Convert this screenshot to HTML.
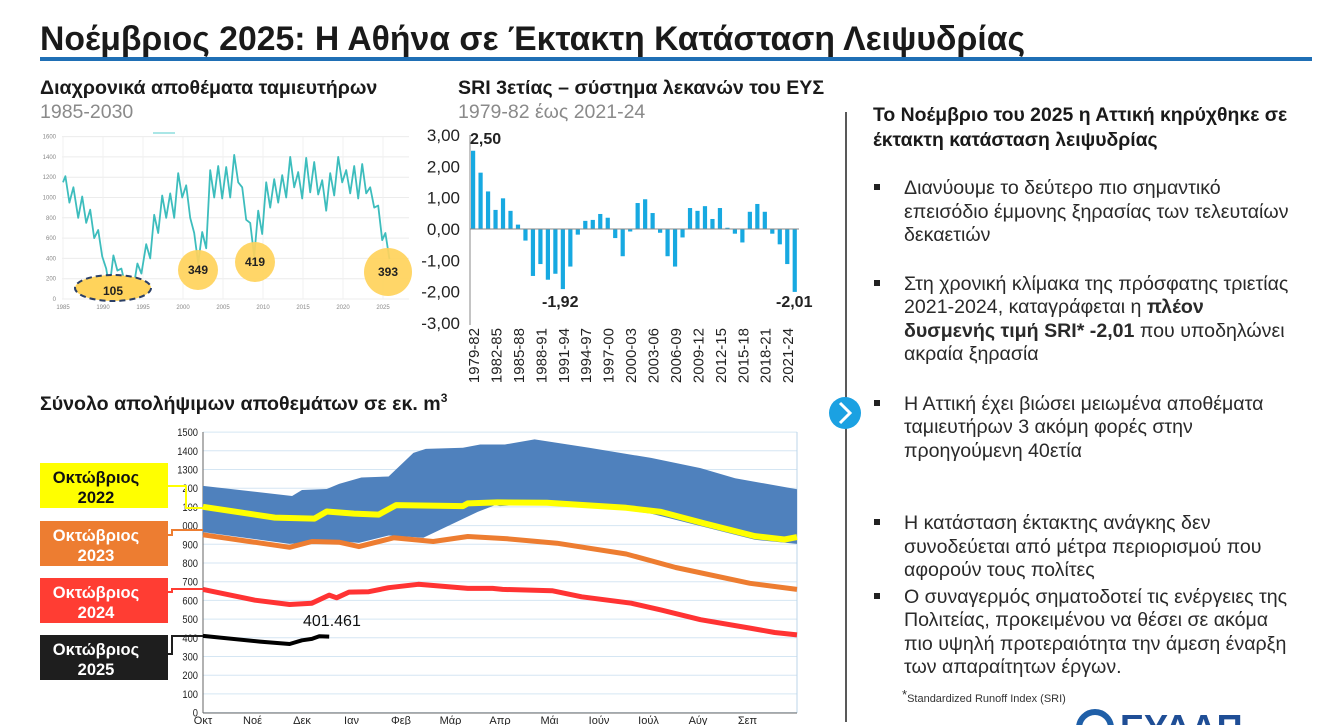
<!DOCTYPE html>
<html><head><meta charset="utf-8"><style>
html,body{margin:0;padding:0;background:#fff;}
svg{display:block;font-family:"Liberation Sans",Arial,sans-serif;}
</style></head><body>
<svg id="s" width="1334" height="725" viewBox="0 0 1334 725" xmlns="http://www.w3.org/2000/svg">
<rect width="1334" height="725" fill="#fff"/>
<text x="40" y="50" font-size="34" font-weight="bold" fill="#1a1a1a" textLength="985" lengthAdjust="spacingAndGlyphs">Νοέμβριος 2025: Η Αθήνα σε Έκτακτη Κατάσταση Λειψυδρίας</text>
<rect x="40" y="57" width="1272" height="4" fill="#1f6fb5"/>

<text x="40" y="94" font-size="19.6" font-weight="bold" fill="#1a1a1a">Διαχρονικά αποθέματα ταμιευτήρων</text>
<text x="40" y="118" font-size="19.5" fill="#8a8a8a">1985-2030</text>
<text x="458" y="94" font-size="19.6" font-weight="bold" fill="#1a1a1a">SRI 3ετίας – σύστημα λεκανών του ΕΥΣ</text>
<text x="458" y="118" font-size="19.5" fill="#8a8a8a">1979-82 έως 2021-24</text>

<g id="left"></g>
<g id="sri"></g>
<g id="bottom"></g>

<text x="40" y="410" font-size="19.6" font-weight="bold" fill="#1a1a1a">Σύνολο απολήψιμων αποθεμάτων σε εκ. m<tspan font-size="12" dy="-8">3</tspan></text>

<!-- right panel -->
<line x1="846" y1="112" x2="846" y2="722" stroke="#222" stroke-width="1.5"/>
<circle cx="845" cy="413" r="16" fill="#1ba1e2"/>
<polyline points="840,403 850,413 840,423" fill="none" stroke="#fff" stroke-width="3"/>
<g font-size="19.4" font-weight="bold" fill="#1a1a1a">
<text x="873" y="121">Το Νοέμβριο του 2025 η Αττική κηρύχθηκε σε</text>
<text x="873" y="146">έκτακτη κατάσταση λειψυδρίας</text>
</g>
<g font-size="19.6" fill="#2a2a2a">
<rect x="874" y="184" width="6" height="6" fill="#222"/>
<text x="904" y="194">Διανύουμε το δεύτερο πιο σημαντικό</text>
<text x="904" y="218">επεισόδιο έμμονης ξηρασίας των τελευταίων</text>
<text x="904" y="241">δεκαετιών</text>
<rect x="874" y="280" width="6" height="6" fill="#222"/>
<text x="904" y="290">Στη χρονική κλίμακα της πρόσφατης τριετίας</text>
<text x="904" y="313">2021-2024, καταγράφεται η <tspan font-weight="bold">πλέον</tspan></text>
<text x="904" y="337"><tspan font-weight="bold">δυσμενής τιμή SRI* -2,01</tspan> που υποδηλώνει</text>
<text x="904" y="360">ακραία ξηρασία</text>
<rect x="874" y="400" width="6" height="6" fill="#222"/>
<text x="904" y="410">Η Αττική έχει βιώσει μειωμένα αποθέματα</text>
<text x="904" y="433">ταμιευτήρων 3 ακόμη φορές στην</text>
<text x="904" y="457">προηγούμενη 40ετία</text>
<rect x="874" y="519" width="6" height="6" fill="#222"/>
<text x="904" y="529">Η κατάσταση έκτακτης ανάγκης δεν</text>
<text x="904" y="553">συνοδεύεται από μέτρα περιορισμού που</text>
<text x="904" y="576">αφορούν τους πολίτες</text>
<rect x="874" y="593" width="6" height="6" fill="#222"/>
<text x="904" y="603">Ο συναγερμός σηματοδοτεί τις ενέργειες της</text>
<text x="904" y="626">Πολιτείας, προκειμένου να θέσει σε ακόμα</text>
<text x="904" y="650">πιο υψηλή προτεραιότητα την άμεση έναρξη</text>
<text x="904" y="673">των απαραίτητων έργων.</text>
</g>
<text x="902" y="702" font-size="11" fill="#333"><tspan font-size="13" dy="-3">*</tspan><tspan dy="3">Standardized Runoff Index (SRI)</tspan></text>
<circle cx="1095" cy="728" r="16" fill="none" stroke="#1f5fa8" stroke-width="6"/>
<text x="1120" y="740" font-size="36" font-weight="bold" fill="#1f4e96">ΕΥΔΑΠ</text>
</svg>
<script>
const NS="http://www.w3.org/2000/svg";
function el(p,t,a,txt){const e=document.createElementNS(NS,t);for(const k in a)e.setAttribute(k,a[k]);if(txt!==undefined)e.textContent=txt;p.appendChild(e);return e;}
(function(){
const g=document.getElementById('left');
const X=y=>63+(y-1985)*8.0, Y=v=>299-v*0.1015;
for(let v=0;v<=1600;v+=200){el(g,'line',{x1:62,x2:409,y1:Y(v),y2:Y(v),stroke:'#ececec','stroke-width':1});
el(g,'text',{x:56,y:Y(v)+2,'font-size':6,fill:'#888','text-anchor':'end'},v);}
for(let y=1985;y<=2025;y+=5){el(g,'line',{x1:X(y),x2:X(y),y1:137,y2:299,stroke:'#f0f0f0'});
el(g,'text',{x:X(y),y:309,'font-size':6,fill:'#888','text-anchor':'middle'},y);}
el(g,'line',{x1:153,x2:175,y1:133,y2:133,stroke:'#5cc',"stroke-width":1});
const d=[[1985,1150],[1985.3,1210],[1985.8,950],[1986.3,1100],[1986.9,800],[1987.4,1010],[1987.9,750],[1988.4,880],[1988.9,600],[1989.4,680],[1989.9,420],[1990.4,300],[1990.8,105],[1991.3,430],[1991.8,280],[1992.3,300],[1992.8,130],[1993.3,200],[1993.8,110],[1994.3,350],[1994.8,250],[1995.4,540],[1995.9,400],[1996.4,830],[1996.9,650],[1997.4,1020],[1997.9,800],[1998.4,1040],[1998.9,800],[1999.4,1240],[1999.9,1000],[2000.4,1120],[2000.9,800],[2001.4,650],[2001.9,349],[2002.4,660],[2002.9,500],[2003.4,1270],[2003.9,1000],[2004.4,1310],[2004.9,990],[2005.4,1300],[2005.9,1000],[2006.4,1420],[2006.9,1150],[2007.4,1100],[2007.9,780],[2008.4,750],[2008.9,419],[2009.4,870],[2009.9,640],[2010.4,1150],[2010.9,900],[2011.4,1180],[2011.9,950],[2012.4,1220],[2012.9,1000],[2013.4,1400],[2013.9,1100],[2014.4,1250],[2014.9,990],[2015.4,1390],[2015.9,1050],[2016.4,1350],[2016.9,1030],[2017.4,1170],[2017.9,870],[2018.4,1240],[2018.9,1020],[2019.4,1400],[2019.9,1150],[2020.4,1270],[2020.9,1040],[2021.4,1310],[2021.9,990],[2022.4,1330],[2022.9,1040],[2023.4,1100],[2023.9,900],[2024.4,920],[2024.9,580],[2025.3,650],[2025.8,393]];
el(g,'polyline',{points:d.map(p=>X(p[0]).toFixed(1)+','+Y(p[1]).toFixed(1)).join(' '),fill:'none',stroke:'#3dbdbd','stroke-width':1.8,'stroke-linejoin':'round'});
const C=[[198,270,20,'349'],[255,262,20,'419'],[388,272,24,'393']];
el(g,'ellipse',{cx:113,cy:288,rx:38,ry:13,fill:'#ffd35b',stroke:'#2b3f66','stroke-width':2,'stroke-dasharray':'6,4'});
el(g,'text',{x:113,y:295,'font-size':12,'font-weight':'bold','text-anchor':'middle',fill:'#222'},'105');
C.forEach(c=>{el(g,'circle',{cx:c[0],cy:c[1],r:c[2],fill:'#ffd35b',opacity:.92});el(g,'text',{x:c[0],y:c[1]+4,'font-size':12,'font-weight':'bold','text-anchor':'middle',fill:'#222'},c[3]);});
})();
(function(){
const g=document.getElementById('sri');
const Y=v=>229-v*31.3;
['3,00','2,00','1,00','0,00','-1,00','-2,00','-3,00'].forEach((t,i)=>el(g,'text',{x:460,y:Y(3-i)+6,'font-size':17,fill:'#222','text-anchor':'end'},t));
const v=[2.50,1.80,1.20,0.61,0.98,0.58,0.14,-0.37,-1.50,-1.12,-1.62,-1.43,-1.92,-1.20,-0.18,0.26,0.29,0.48,0.36,-0.29,-0.87,-0.08,0.83,0.95,0.51,-0.12,-0.87,-1.20,-0.27,0.67,0.58,0.73,0.32,0.67,0.04,-0.15,-0.43,0.55,0.80,0.55,-0.15,-0.49,-1.12,-2.01];
v.forEach((b,i)=>{const x=473+i*7.48;el(g,'rect',{x:x-2,y:Math.min(Y(0),Y(b)),width:4.2,height:Math.abs(b)*31.3,fill:'#17a9e1'});});
el(g,'line',{x1:470,x2:470,y1:135,y2:325,stroke:'#888'});
el(g,'line',{x1:470,x2:799,y1:229,y2:229,stroke:'#888'});
const L=['1979-82','1982-85','1985-88','1988-91','1991-94','1994-97','1997-00','2000-03','2003-06','2006-09','2009-12','2012-15','2015-18','2018-21','2021-24'];
L.forEach((t,i)=>{const x=473+i*3*7.48+6;el(g,'text',{x:x,y:328,'font-size':15,fill:'#222','text-anchor':'end',transform:`rotate(-90 ${x} 328)`},t);});
el(g,'text',{x:470,y:144,'font-size':16,'font-weight':'bold',fill:'#222'},'2,50');
el(g,'text',{x:542,y:307,'font-size':16,'font-weight':'bold',fill:'#222'},'-1,92');
el(g,'text',{x:776,y:307,'font-size':16,'font-weight':'bold',fill:'#222'},'-2,01');
})();
(function(){
const g=document.getElementById('bottom');
const X=zx=>203+(zx-345)*0.495, Y=zy=>432+(zy-38)*0.337;
const YV=v=>712.6-v*0.187;
for(let v=0;v<=1500;v+=100){el(g,'line',{x1:203,x2:797,y1:YV(v),y2:YV(v),stroke:'#d5e6f3'});
let t=v>=1000&&v<=1200?String(v).slice(1):v;
el(g,'text',{x:198,y:YV(v)+4,'font-size':11,fill:'#222','text-anchor':'end','transform':`scale(0.85 1) translate(${198/0.85-198} 0)`},t);}
const mon=['Οκτ','Νοέ','Δεκ','Ιαν','Φεβ','Μάρ','Απρ','Μάι','Ιούν','Ιούλ','Αύγ','Σεπ'];
mon.forEach((m,i)=>{el(g,'text',{x:203+i*49.5,y:724,'font-size':11,fill:'#222','text-anchor':'middle'},m);});
el(g,'line',{x1:797,x2:797,y1:432,y2:713,stroke:'#bcd6ea'});
el(g,'line',{x1:203,x2:203,y1:432,y2:713,stroke:'#666'});
el(g,'line',{x1:203,x2:797,y1:713,y2:713,stroke:'#666'});
const pts=a=>a.map(p=>X(p[0]).toFixed(1)+','+Y(p[1]).toFixed(1)).join(' ');
const up=[[345,198],[525,228],[545,210],[595,207],[620,192],[665,173],[720,170],[770,100],[795,88],[870,85],[905,75],[955,75],[1015,60],[1125,85],[1250,115],[1350,145],[1420,175],[1545,208]];
const lo=[[1545,370],[1460,358],[1250,280],[1100,252],[1020,250],[945,258],[935,255],[900,275],[790,352],[720,345],[660,367],[605,360],[520,370],[345,335]];
el(g,'polygon',{points:pts(up.concat(lo)),fill:'#4f81bd'});
const line=(a,c,w)=>el(g,'polyline',{points:pts(a),fill:'none',stroke:c,'stroke-width':w,'stroke-linejoin':'round'});
line([[345,260],[490,292],[570,295],[595,274],[650,280],[700,283],[735,255],[870,258],[880,250],[940,247],[1040,248],[1200,263],[1270,275],[1360,310],[1460,347],[1520,357],[1545,350]],'#ffff00',6);
line([[345,343],[520,380],[565,363],[620,365],[660,378],[730,352],[810,363],[880,348],[960,355],[1060,368],[1200,400],[1300,440],[1450,487],[1545,505]],'#ed7d31',5);
line([[345,505],[450,537],[520,550],[565,546],[600,522],[615,530],[640,513],[680,512],[720,500],[780,490],[880,502],[930,502],[950,505],[1050,509],[1110,527],[1210,546],[1270,566],[1350,595],[1450,620],[1500,633],[1545,640]],'#ff3333',5);
line([[345,643],[460,660],[520,667],[545,656],[565,652],[580,644],[600,645]],'#000',4);
el(g,'text',{x:303,y:626,'font-size':16,fill:'#111'},'401.461');
const B=[[463,'#ffff00','#111','2022',[[168,486],[186,486],[186,508],[203,508]],'#ffff00'],
[521,'#ed7d31','#fff','2023',[[168,535],[172,535],[172,530],[203,530]],'#ed7d31'],
[578,'#ff3d33','#fff','2024',[[168,592],[172,592],[172,589],[203,589]],'#ff3d33'],
[635,'#1e1e1e','#fff','2025',[[168,654],[172,654],[172,636],[203,636]],'#1e1e1e']];
B.forEach(b=>{el(g,'polyline',{points:b[4].map(p=>p.join(',')).join(' '),fill:'none',stroke:b[5],'stroke-width':2});
el(g,'rect',{x:40,y:b[0],width:128,height:45,fill:b[1]});
el(g,'text',{x:96,y:b[0]+20,'font-size':16.5,'font-weight':'bold',fill:b[2],'text-anchor':'middle'},'Οκτώβριος');
el(g,'text',{x:96,y:b[0]+40,'font-size':16.5,'font-weight':'bold',fill:b[2],'text-anchor':'middle'},b[3]);});
})();
</script>
</body></html>
